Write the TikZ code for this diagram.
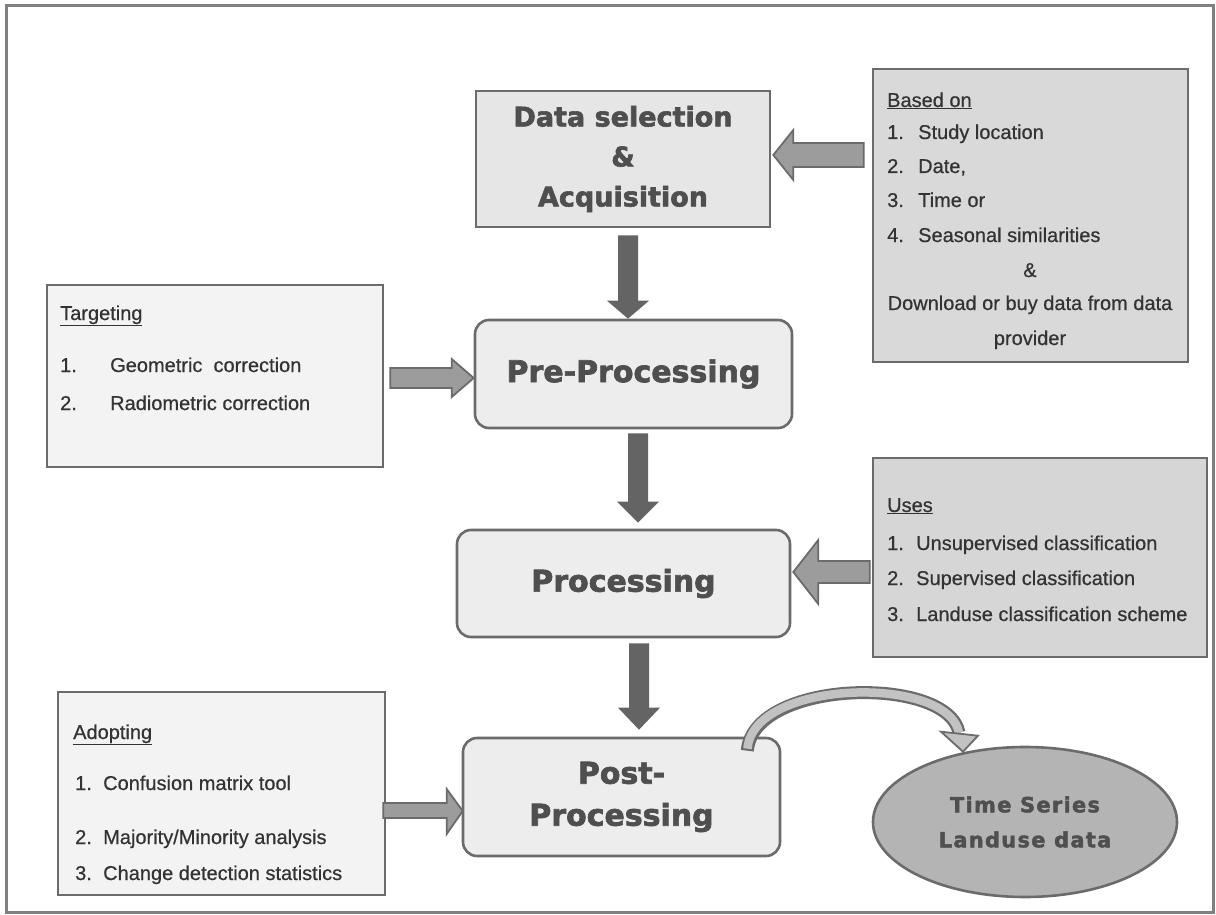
\documentclass[tikz,border=0pt]{standalone}
\usepackage{fontspec}
\setmainfont{Liberation Sans}[FakeBold=0.6]
\newfontfamily\titlefont{DejaVu Sans}[BoldFeatures={FakeBold=2.2}]
\newfontfamily\ellfont{DejaVu Sans}[LetterSpace=6,BoldFeatures={FakeBold=2}]
\usetikzlibrary{calc,shapes.geometric}
\definecolor{framec}{HTML}{808080}
\definecolor{edgec}{HTML}{6B6B6B}
\definecolor{txtc}{HTML}{333333}
\definecolor{ttlc}{HTML}{4F4F4F}
\definecolor{darkarrow}{HTML}{646464}
\definecolor{midarrow}{HTML}{9C9C9C}
\definecolor{lightarrow}{HTML}{C2C2C2}
\definecolor{fillA}{HTML}{E6E6E6}
\definecolor{fillR}{HTML}{EDEDED}
\definecolor{fillB}{HTML}{D9D9D9}
\definecolor{fillT}{HTML}{F3F3F3}
\definecolor{fillU}{HTML}{D6D6D6}
\definecolor{fillE}{HTML}{B4B4B4}
\begin{document}
\begin{tikzpicture}[x=1pt,y=-1pt,
  box/.style={draw=edgec, line width=2.6pt, inner sep=0pt, rectangle},
  rbox/.style={box, rounded corners=14pt},
  ttl/.style={font=\titlefont\bfseries\fontsize{27}{40}\selectfont, text=ttlc, align=center},
  rttl/.style={ttl, font=\titlefont\bfseries\fontsize{30}{42}\selectfont},
  item/.style={font=\fontsize{20}{24}\selectfont, text=txtc, anchor=base west, inner sep=0pt},
  citem/.style={item, anchor=base},
  vblk/.style={fill=darkarrow},
  hblk/.style={fill=midarrow, draw=edgec, line width=1.8pt, line join=miter},
]
\useasboundingbox (0,0) rectangle (1216,915);
\fill[white] (0,0) rectangle (1216,915);
\draw[framec, line width=3pt] (6.5,5.5) rectangle (1213.5,912.5);

% main flow boxes
\node[box, fill=fillA, minimum width=294pt, minimum height=136pt, ttl] (data) at (623,159) {Data selection\\\&\\Acquisition};
\node[rbox, fill=fillR, minimum width=317pt, minimum height=108pt, rttl] (pre) at (633.5,374) {Pre-Processing};
\node[rbox, fill=fillR, minimum width=333pt, minimum height=107pt, rttl] (proc) at (623.5,583.5) {Processing};
\node[rbox, fill=fillR, minimum width=317pt, minimum height=118pt, rttl] (post) at (621.5,797) {Post-\\Processing};
\node[ellipse, draw=edgec, line width=2.6pt, fill=fillE, minimum width=304pt, minimum height=150pt, inner sep=0pt,
      font=\ellfont\bfseries\fontsize{21}{35}\selectfont, text=ttlc, align=center] (ell) at (1025,822) {Time Series\\Landuse data};

% side boxes
\node[box, fill=fillB, minimum width=315pt, minimum height=293pt] (based) at (1030.5,215.5) {};
\node[box, fill=fillT, minimum width=336pt, minimum height=182pt] (target) at (215,376) {};
\node[box, fill=fillU, minimum width=334pt, minimum height=199pt] (uses) at (1040,557.5) {};
\node[box, fill=fillT, minimum width=327pt, minimum height=203pt] (adopt) at (221.5,793.5) {};

% Based on
\node[item] (b0) at (887,107) {\underline{Based on}};
\node[item] (b1n) at (887,139) {1.};
\node[item] (b1) at (918,139) {Study location};
\node[item] (b2n) at (887,173) {2.};
\node[item] (b2) at (918,173) {Date,};
\node[item] (b3n) at (887,207) {3.};
\node[item] (b3) at (918,207) {Time or};
\node[item] (b4n) at (887,242) {4.};
\node[item] (b4) at (918,242) {Seasonal similarities};
\node[citem] (b5) at (1030,277) {\&};
\node[citem] (b6) at (1030,310) {Download or buy data from data};
\node[citem] (b7) at (1030,345) {provider};

% Targeting
\node[item] (t0) at (60,320) {\underline{Targeting}};
\node[item] (t1n) at (60,372) {1.};
\node[item] (t1) at (110,372) {Geometric\ \ correction};
\node[item] (t2n) at (60,410) {2.};
\node[item] (t2) at (110,410) {Radiometric correction};

% Uses
\node[item] (u0) at (887,512) {\underline{Uses}};
\node[item] (u1n) at (887,550) {1.};
\node[item] (u1) at (916,550) {Unsupervised classification};
\node[item] (u2n) at (887,585) {2.};
\node[item] (u2) at (916,585) {Supervised classification};
\node[item] (u3n) at (887,621) {3.};
\node[item] (u3) at (916,621) {Landuse classification scheme};

% Adopting
\node[item] (a0) at (73,739) {\underline{Adopting}};
\node[item] (a1n) at (75,790) {1.};
\node[item] (a1) at (103,790) {Confusion matrix tool};
\node[item] (a2n) at (75,844) {2.};
\node[item] (a2) at (103,844) {Majority/Minority analysis};
\node[item] (a3n) at (75,880) {3.};
\node[item] (a3) at (103,880) {Change detection statistics};

% vertical block arrows
\fill[vblk] let \p1=(data.south), \p2=(pre.north) in
  (618pt,\y1-7pt) -- (638pt,\y1-7pt) -- (638pt,\y2+18pt) -- (649pt,\y2+18pt) -- (628pt,\y2) -- (607pt,\y2+18pt) -- (618pt,\y2+18pt) -- cycle;
\fill[vblk] let \p1=(pre.south), \p2=(proc.north) in
  (628pt,\y1-4pt) -- (648pt,\y1-4pt) -- (648pt,\y2+27pt) -- (659pt,\y2+27pt) -- (638pt,\y2+6pt) -- (617pt,\y2+27pt) -- (628pt,\y2+27pt) -- cycle;
\fill[vblk] let \p1=(proc.south), \p2=(post.north) in
  (629pt,\y1-5pt) -- (649pt,\y1-5pt) -- (649pt,\y2+29pt) -- (660pt,\y2+29pt) -- (639pt,\y2+7pt) -- (618pt,\y2+29pt) -- (629pt,\y2+29pt) -- cycle;

% horizontal block arrows
\filldraw[hblk] let \p1=(based.west), \p2=(data.east) in
  (\x1-8pt,-143pt) -- (\x2+22pt,-143pt) -- (\x2+22pt,-130pt) -- (\x2+2pt,-155pt) -- (\x2+22pt,-180pt) -- (\x2+22pt,-167pt) -- (\x1-8pt,-167pt) -- cycle;
\filldraw[hblk] let \p1=(target.east), \p2=(pre.west) in
  (\x1+6pt,-368pt) -- (\x2-22pt,-368pt) -- (\x2-22pt,-359pt) -- (\x2,-378pt) -- (\x2-22pt,-397pt) -- (\x2-22pt,-388pt) -- (\x1+6pt,-388pt) -- cycle;
\filldraw[hblk] let \p1=(uses.west), \p2=(proc.east) in
  (\x1-2pt,-561pt) -- (\x2+27pt,-561pt) -- (\x2+27pt,-540pt) -- (\x2+2pt,-572pt) -- (\x2+27pt,-604pt) -- (\x2+27pt,-583pt) -- (\x1-2pt,-583pt) -- cycle;
\filldraw[hblk] let \p1=(adopt.east), \p2=(post.west) in
  (\x1-3pt,-803pt) -- (\x2-15pt,-803pt) -- (\x2-15pt,-789pt) -- (\x2+1pt,-811pt) -- (\x2-15pt,-834pt) -- (\x2-15pt,-818pt) -- (\x1-3pt,-818pt) -- cycle;

% curved arrow Post-Processing -> Time Series
\coordinate (cs) at ($(post.north east)+(-34,14)$);
\coordinate (ce) at ($(ell.north)+(-66,-13)$);
\coordinate (ct) at ($(ell.north)+(-62,6)$);
\draw[edgec, line width=13pt] (cs) .. controls ($(cs)+(6,-72)$) and ($(ce)+(-11,-58)$) .. (ce);
\draw[lightarrow, line width=8.5pt, shorten <=2pt] (cs) .. controls ($(cs)+(6,-72)$) and ($(ce)+(-11,-58)$) .. (ce);
\filldraw[fill=lightarrow, draw=edgec, line width=1.8pt, line join=miter] ($(ce)+(-18,-1)$) -- ($(ce)+(19,3)$) -- (ct) -- cycle;
\end{tikzpicture}
\end{document}
